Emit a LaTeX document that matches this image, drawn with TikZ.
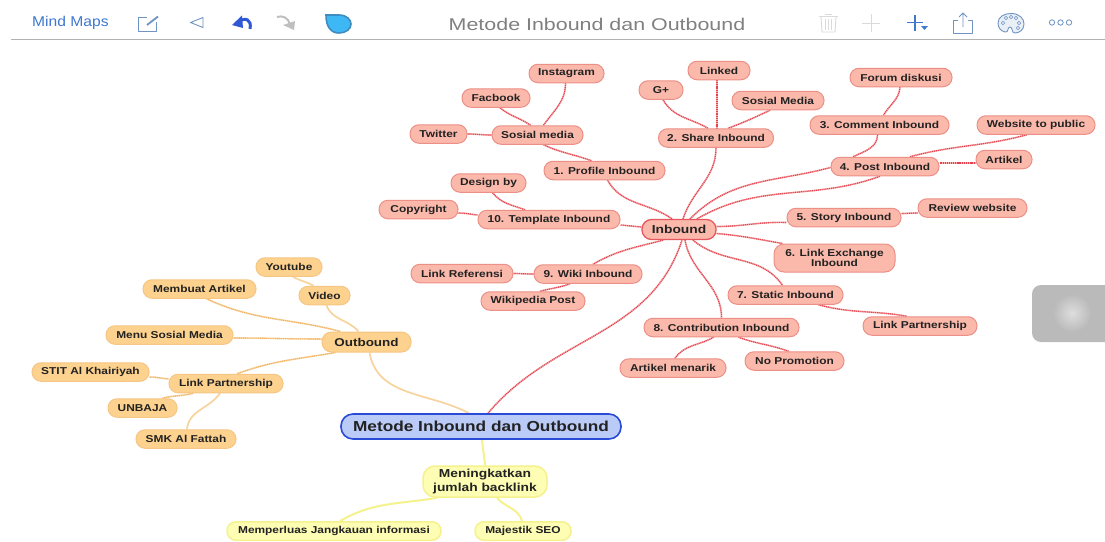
\documentclass[tikz,border=0pt]{standalone}
\usepackage{fontspec}
\setmainfont{Liberation Sans}
\usetikzlibrary{backgrounds}
\definecolor{pkf}{HTML}{FBB9AB}
\definecolor{pkd}{HTML}{EC8F86}
\definecolor{pkl}{HTML}{F5B0B0}
\definecolor{pkr}{HTML}{E4404F}
\definecolor{orf}{HTML}{FDD18E}
\definecolor{ord}{HTML}{F5C684}
\definecolor{orl}{HTML}{F9D9A8}
\definecolor{orr}{HTML}{F0B060}
\definecolor{blf}{HTML}{BBCBF8}
\definecolor{bld}{HTML}{2A4BD6}
\definecolor{yef}{HTML}{FDFDB4}
\definecolor{yed}{HTML}{F5F28E}
\definecolor{ink}{HTML}{222222}
\definecolor{tbblue}{HTML}{3F78D0}
\definecolor{tbline}{HTML}{6F93C4}
\definecolor{tbgray}{HTML}{DADADA}
\definecolor{shfill}{HTML}{3DB8F5}
\definecolor{shline}{HTML}{3E8CC0}
\newcommand\lsfont[2]{\fontsize{#1}{#2}\selectfont\bfseries\addfontfeature{FakeStretch=1.19}}
\tikzset{
  x=1pt,y=-1pt,
  nd/.style={rectangle,rounded corners=9pt,minimum height=18.5pt,inner sep=0pt,align=center,
    text=ink,font=\lsfont{10}{10.6}},
  pk/.style={nd,draw=pkd,fill=pkf,line width=1pt},
  og/.style={nd,draw=ord,fill=orf,line width=1pt},
  ye/.style={nd,draw=yed,fill=yef,line width=1.5pt},
  rl/.style={draw=pkr,line width=1.2pt,dash pattern=on 1pt off 0.9pt,preaction={draw=pkl,solid,line width=1.6pt}},
  ol/.style={draw=orr,line width=1.1pt,dash pattern=on 1pt off 0.9pt,preaction={draw=orl,solid,line width=1.6pt}},
  ool/.style={draw=orl!85!orr,line width=1.7pt},
  yl/.style={draw=yed,line width=2pt},
  tbi/.style={draw=tbline,line width=0.9pt,line join=round},
  tbg/.style={draw=tbgray,line width=0.9pt,line join=round},
}
\begin{document}
\begin{tikzpicture}
\useasboundingbox (0,0) rectangle (1105,541);
% toolbar
\node[anchor=west,inner sep=0pt,text=tbblue,font=\fontsize{14.2}{16}\selectfont] (mm) at (32,23) {\addfontfeature{FakeStretch=1.1}Mind Maps};
\node[inner sep=0pt,text=black!50,font=\fontsize{17}{18}\selectfont] (title) at (597,24) {\addfontfeature{FakeStretch=1.26}Metode Inbound dan Outbound};
\draw[black!30,line width=0.8pt] (11,39.5) -- (1105,39.5);
% edit
\draw[tbi] (147,17.5) -- (138.5,17.5) -- (138.5,31.5) -- (156.5,31.5) -- (156.5,22);
\draw[tbline,line width=1.8pt] (147,25) -- (158,16.5);
% back
\draw[tbi] (203,17.5) -- (190.5,22.5) -- (203,27.5) -- cycle;
% undo
\draw[bld!70!tbblue,line width=3pt] (250,29) .. controls (252,19) and (245,17) .. (238,22);
\fill[bld!70!tbblue] (232,25) -- (242,15.5) -- (243,28) -- cycle;
% redo
\draw[black!25,line width=2pt] (277,17) .. controls (283,15) and (288,18) .. (290,24);
\fill[black!25] (283,25) -- (295,21) -- (294,30) -- cycle;
% shape
\draw[fill=shfill,draw=shline,line width=1.6pt] (326,15) -- (339,15) .. controls (347,15) and (351,20) .. (351,24) .. controls (351,29) and (346,33) .. (339,33) .. controls (331,33) and (326,27) .. (326,15) -- cycle;
% trash
\draw[tbg] (821,17) -- (822,32) -- (835,32) -- (836,17);
\draw[tbg] (819,16) -- (838,16);
\draw[tbg] (825,14) -- (832,14);
\draw[tbg] (825.5,19) -- (825.5,30) (828.5,19) -- (828.5,30) (831.5,19) -- (831.5,30);
% plus
\draw[tbg] (862,23) -- (880,23) (871,14) -- (871,32);
% plus with triangle
\draw[tbi,draw=tbblue,line width=1.1pt] (907,22.5) -- (923,22.5) (915,15) -- (915,31);
\fill[tbblue] (921,26) -- (928,26) -- (924.5,30) -- cycle;
% share
\draw[tbi] (958,20) -- (953.5,20) -- (953.5,33) -- (972.5,33) -- (972.5,20) -- (968,20);
\draw[tbi] (963,27) -- (963,13.5) (959,17) -- (963,13) -- (967,17);
% palette
\draw[tbi,fill=tbline!15] (1011,13.5) .. controls (1020,13.5) and (1024,19) .. (1024,24) .. controls (1024,30) and (1019,33) .. (1015,33) .. controls (1011,33) and (1013,27) .. (1010,27) .. controls (1007,27) and (1009,33) .. (1005,32) .. controls (1001,31) and (998,28) .. (998,23) .. controls (998,17) and (1004,13.5) .. (1011,13.5) -- cycle;
\foreach \a/\b in {1003/23,1006/18,1011/17,1016/18,1019/23,1018/28}
  \draw[tbline,line width=0.5pt] (\a,\b) circle (1.8);
% dots
\foreach \a in {1052,1060.5,1069}
  \draw[tbline,line width=0.8pt] (\a,22.5) circle (2.7);
% grey widget
\fill[black!27,rounded corners=9pt] (1032,285) rectangle (1115,342);
\shade[inner color=black!13,outer color=black!27] (1072,313) circle (19);

% nodes
\node[nd,draw=bld,fill=blf,line width=1.6pt,rounded corners=12pt,minimum width=280pt,minimum height=25pt,font=\lsfont{14.5}{16}] (root) at (481,426.5) {Metode Inbound dan Outbound};
\node[pk,draw=pkr!70!pkd,line width=1.3pt,rounded corners=9.5pt,minimum width=74pt,minimum height=20pt,font=\lsfont{11.6}{13}] (inb) at (679,229.5) {Inbound};
\node[og,rounded corners=9.5pt,minimum width=89pt,minimum height=20pt,font=\lsfont{11.3}{13}] (outb) at (366.5,342) {Outbound};
\node[ye,rounded corners=12pt,minimum width=124pt,minimum height=31pt,font=\lsfont{11.6}{13.2}] (ming) at (485,481.5) {Meningkatkan\\jumlah backlink};
\node[ye,minimum width=214pt] (luas) at (334,531) {Memperluas Jangkauan informasi};
\node[ye,minimum width=96pt] (maj) at (523,531) {Majestik SEO};

\node[pk,minimum width=75pt] (ig) at (566.5,73.5) {Instagram};
\node[pk,minimum width=68pt] (fb) at (496,98) {Facbook};
\node[pk,minimum width=57pt] (tw) at (438.5,134) {Twitter};
\node[pk,minimum width=91pt] (sm) at (537.5,135) {Sosial media};
\node[pk,minimum width=121pt] (p1) at (604.5,170.5) {1. Profile Inbound};
\node[pk,minimum width=75pt] (des) at (488.5,183) {Design by};
\node[pk,minimum width=79pt] (cop) at (418.5,209.5) {Copyright};
\node[pk,minimum width=142pt] (p10) at (549,219.5) {10. Template Inbound};
\node[pk,minimum width=44pt] (gp) at (661,90) {G+};
\node[pk,minimum width=62pt] (lkd) at (719,70.5) {Linked};
\node[pk,minimum width=115pt] (p2) at (716,138) {2. Share Inbound};
\node[pk,minimum width=92pt] (smd) at (778,100.5) {Sosial Media};
\node[pk,minimum width=102pt] (fd) at (901,77.5) {Forum diskusi};
\node[pk,minimum width=139pt] (p3) at (879.5,125) {3. Comment Inbound};
\node[pk,minimum width=118pt] (web) at (1036,125) {Website to public};
\node[pk,minimum width=108pt] (p4) at (885,166.5) {4. Post Inbound};
\node[pk,minimum width=56pt] (art) at (1004,159.5) {Artikel};
\node[pk,minimum width=114pt] (p5) at (844,217.5) {5. Story Inbound};
\node[pk,minimum width=109pt] (rev) at (972.5,208) {Review website};
\node[pk,minimum width=121pt,minimum height=28pt,rounded corners=10pt] (p6) at (834.5,258) {6. Link Exchange\\Inbound};
\node[pk,minimum width=115pt] (p7) at (785.5,295) {7. Static Inbound};
\node[pk,minimum width=114pt] (lp1) at (920,326) {Link Partnership};
\node[pk,minimum width=155pt] (p8) at (721.5,327.5) {8. Contribution Inbound};
\node[pk,minimum width=99pt] (np) at (794.5,361) {No Promotion};
\node[pk,minimum width=106pt] (am) at (673,368) {Artikel menarik};
\node[pk,minimum width=108pt] (p9) at (588,274) {9. Wiki Inbound};
\node[pk,minimum width=102pt] (ref) at (462,273.5) {Link Referensi};
\node[pk,minimum width=104pt] (wp) at (533,301) {Wikipedia Post};

\node[og,minimum width=66pt] (yt) at (289,267) {Youtube};
\node[og,minimum width=51pt] (vid) at (324.5,295.5) {Video};
\node[og,minimum width=113pt] (mba) at (199.5,289) {Membuat Artikel};
\node[og,minimum width=127pt] (msm) at (169.5,335) {Menu Sosial Media};
\node[og,minimum width=117pt] (sti) at (90.5,372) {STIT Al Khairiyah};
\node[og,minimum width=114pt] (lp2) at (226,383.5) {Link Partnership};
\node[og,minimum width=69pt] (unb) at (142.5,408) {UNBAJA};
\node[og,minimum width=100pt] (smk) at (186,439) {SMK Al Fattah};

% connectors
\begin{pgfonlayer}{background}
\fill[white] (0,0) rectangle (1105,541);
\draw[rl] ([shift={(7,0)}]root.north) to[out=50,in=-108] ([shift={(3,0)}]inb.south);
\draw[ool] ([shift={(-12,0)}]root.north) to[out=152,in=-80] ([shift={(3,0)}]outb.south);
\draw[yl] ([shift={(1,0)}]root.south) to[out=-85,in=95] (ming.north);
\draw[yl] ([shift={(-48,0)}]ming.south) to[out=190,in=30] ([shift={(6,0)}]luas.north);
\draw[yl] ([shift={(12,0)}]ming.south) to[out=-50,in=105] ([shift={(-1,0)}]maj.north);

\draw[rl] ([shift={(-7,0)}]inb.north) to[out=145,in=-60] ([shift={(3,0)}]p1.south);
\draw[rl] ([shift={(0,-2.5)}]inb.west) to[out=175,in=-5] ([shift={(0,5.5)}]p10.east);
\draw[rl] (tw.east) to[out=0,in=180] (sm.west);
\draw[rl] ([shift={(-7,0)}]sm.north) to[out=145,in=-40] ([shift={(4,0)}]fb.south);
\draw[rl] ([shift={(6,0)}]sm.north) to[out=55,in=-90] ([shift={(-1,0)}]ig.south);
\draw[rl] ([shift={(6,0)}]sm.south) to[out=-25,in=160] ([shift={(-13,0)}]p1.north);
\draw[rl] ([shift={(4,0)}]des.south) to[out=-50,in=160] ([shift={(-24,0)}]p10.north);
\draw[rl] ([shift={(0,3.5)}]cop.east) to[out=0,in=175] ([shift={(0,-4.5)}]p10.west);
\draw[rl] ([shift={(2,0)}]gp.south) to[out=-60,in=150] ([shift={(-8,0)}]p2.north);
\draw[rl] ([shift={(-2,0)}]lkd.south) to[out=-90,in=90] ([shift={(1,0)}]p2.north);
\draw[rl] ([shift={(-8,0)}]smd.south) to[out=-155,in=20] ([shift={(12,0)}]p2.north);
\draw[rl] ([shift={(4,0)}]inb.north) to[out=72,in=-90] (p2.south);
\draw[rl] ([shift={(-1,0)}]fd.south) to[out=-95,in=60] ([shift={(4,0)}]p3.north);
\draw[rl] ([shift={(-2,0)}]p3.south) to[out=-90,in=25] ([shift={(-32,0)}]p4.north);
\draw[rl] ([shift={(25,0)}]p4.north) to[out=15,in=195] ([shift={(-9,0)}]web.south);
\draw[rl] ([shift={(0,-3.5)}]p4.east) to[out=0,in=180] ([shift={(0,3.5)}]art.west);
\draw[rl] ([shift={(11,0)}]inb.north) to[out=45,in=195] ([shift={(0,1)}]p4.west);
\draw[rl] ([shift={(18,0)}]inb.north) to[out=30,in=200] ([shift={(-5,0)}]p4.south);
\draw[rl] ([shift={(0,-3)}]inb.east) to[out=0,in=178] ([shift={(0,5)}]p5.west);
\draw[rl] ([shift={(0,-4)}]p5.east) to[out=0,in=180] ([shift={(0,5)}]rev.west);
\draw[rl] ([shift={(0,4)}]inb.east) to[out=-5,in=170] ([shift={(-52,0)}]p6.north);
\draw[rl] ([shift={(14,0)}]inb.south) to[out=-40,in=125] ([shift={(-3,0)}]p7.north);
\draw[rl] ([shift={(33,0)}]p7.south) to[out=-15,in=170] ([shift={(-13,0)}]lp1.north);
\draw[rl] ([shift={(6,0)}]inb.south) to[out=-80,in=90] (p8.north);
\draw[rl] ([shift={(-8,0)}]p8.south) to[out=-150,in=55] ([shift={(2,0)}]am.north);
\draw[rl] ([shift={(17,0)}]p8.south) to[out=-20,in=160] ([shift={(-6,0)}]np.north);
\draw[rl] ([shift={(-16,0)}]inb.south) to[out=195,in=30] ([shift={(5,0)}]p9.north);
\draw[rl] (ref.east) to[out=0,in=180] (p9.west);
\draw[rl] ([shift={(-18,0)}]p9.south) to[out=200,in=15] ([shift={(7,0)}]wp.north);

\draw[ool] ([shift={(4,0)}]yt.south) to[out=-30,in=150] ([shift={(-11,0)}]vid.north);
\draw[ool] ([shift={(2,0)}]vid.south) to[out=-70,in=130] ([shift={(-8,0)}]outb.north);
\draw[ol] ([shift={(7,0)}]mba.south) to[out=-25,in=165] ([shift={(-26,0)}]outb.north);
\draw[ol] ([shift={(0,3)}]msm.east) to[out=0,in=180] ([shift={(0,-3)}]outb.west);
\draw[ol] ([shift={(-31,0)}]outb.south) to[out=190,in=20] ([shift={(11,0)}]lp2.north);
\draw[ol] ([shift={(0,5)}]sti.east) to[out=0,in=175] ([shift={(0,-4.5)}]lp2.west);
\draw[ol] ([shift={(-33,0)}]lp2.south) to[out=195,in=15] ([shift={(20,0)}]unb.north);
\draw[ool] ([shift={(-6,0)}]lp2.south) to[out=-125,in=85] ([shift={(1,0)}]smk.north);
\end{pgfonlayer}
\end{tikzpicture}
\end{document}
